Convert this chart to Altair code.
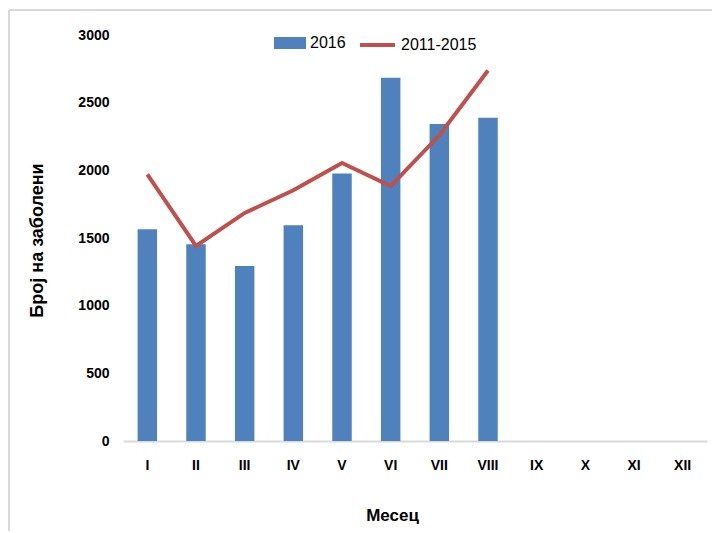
import altair as alt
import pandas as pd

months = ["I", "II", "III", "IV", "V", "VI", "VII", "VIII", "IX", "X", "XI", "XII"]
cases_2016 = [1564, 1453, 1293, 1595, 1976, 2684, 2342, 2389]
avg_2011_2015 = [1971, 1441, 1685, 1853, 2055, 1883, 2259, 2738]
y_ticks = [0, 500, 1000, 1500, 2000, 2500, 3000]

bar_df = pd.DataFrame({"month": months[:len(cases_2016)], "value": cases_2016, "series": "2016"})
line_df = pd.DataFrame({"month": months[:len(avg_2011_2015)], "value": avg_2011_2015, "series": "2011-2015"})

FONT = "Liberation Sans, sans-serif"

x_enc = alt.X("month:N", scale=alt.Scale(domain=months, paddingInner=0.6, paddingOuter=0.3),
              axis=alt.Axis(title="Месец", labelAngle=0, tickSize=0, domainColor="#d9d9d9",
                            domainWidth=2, labelPadding=17, labelFontSize=14, labelFontWeight="bold",
                            labelFont=FONT, titleFont=FONT, titleFontSize=17, titleFontWeight="bold",
                            titleX=269, titleY=74, titleBaseline="middle", titleAlign="center",
                            labelColor="#000", titleColor="#000", grid=False))
y_scale = alt.Scale(domain=[0, 3000])
y_axis = alt.Axis(title="Број на заболени", values=y_ticks, format="d", grid=False, domain=False,
                  ticks=False, labelPadding=14, labelFontSize=14, labelFontWeight="bold",
                  labelFont=FONT, titleFont=FONT, titleFontSize=18, titleFontWeight="bold",
                  titleX=-86, titleY=205, titleAngle=-90, titleAlign="center", titleBaseline="middle",
                  labelColor="#000", titleColor="#000")

bars = alt.Chart(bar_df).mark_bar(color="#4f81bd").encode(
    x=x_enc,
    y=alt.Y("value:Q", scale=y_scale, axis=y_axis),
    fill=alt.Fill("series:N", scale=alt.Scale(domain=["2016"], range=["#4f81bd"]),
                  legend=alt.Legend(title=None, orient="none", legendX=157, legendY=-2,
                                    symbolType="M-1.6,-0.6H1.6V0.6H-1.6Z", symbolSize=400,
                                    symbolStrokeWidth=0, labelFont=FONT, labelFontSize=16,
                                    labelColor="#000", labelOffset=10)),
)

line = alt.Chart(line_df).mark_line(strokeWidth=4).encode(
    x=alt.X("month:N", scale=alt.Scale(domain=months)),
    y=alt.Y("value:Q", scale=y_scale),
    stroke=alt.Stroke("series:N", scale=alt.Scale(domain=["2011-2015"], range=["#c0504d"]),
                      legend=alt.Legend(title=None, orient="none", legendX=235, legendY=-9.5,
                                        symbolType="M-1,0H1", symbolSize=1225, symbolStrokeWidth=4,
                                        labelFont=FONT, labelFontSize=16, labelColor="#000",
                                        labelOffset=4)),
)

border_top = alt.Chart(bar_df).mark_rule(color="#d9d9d9", strokeWidth=2).encode(
    x=alt.value(-114), x2=alt.value(600), y=alt.value(-25))
border_left = alt.Chart(bar_df).mark_rule(color="#d9d9d9", strokeWidth=2).encode(
    x=alt.value(-114), y=alt.value(-25), y2=alt.value(500))

chart = alt.layer(border_top, border_left, bars, line).resolve_scale(
    fill="independent", stroke="independent"
).properties(
    width=584, height=406,
    background="white",
    autosize=alt.AutoSizeParams(type="none"),
    padding={"left": 115, "top": 27, "right": 5, "bottom": 90},
).configure_view(stroke=None)

chart.save("out.html", embed_options={"renderer": "svg", "actions": False})
